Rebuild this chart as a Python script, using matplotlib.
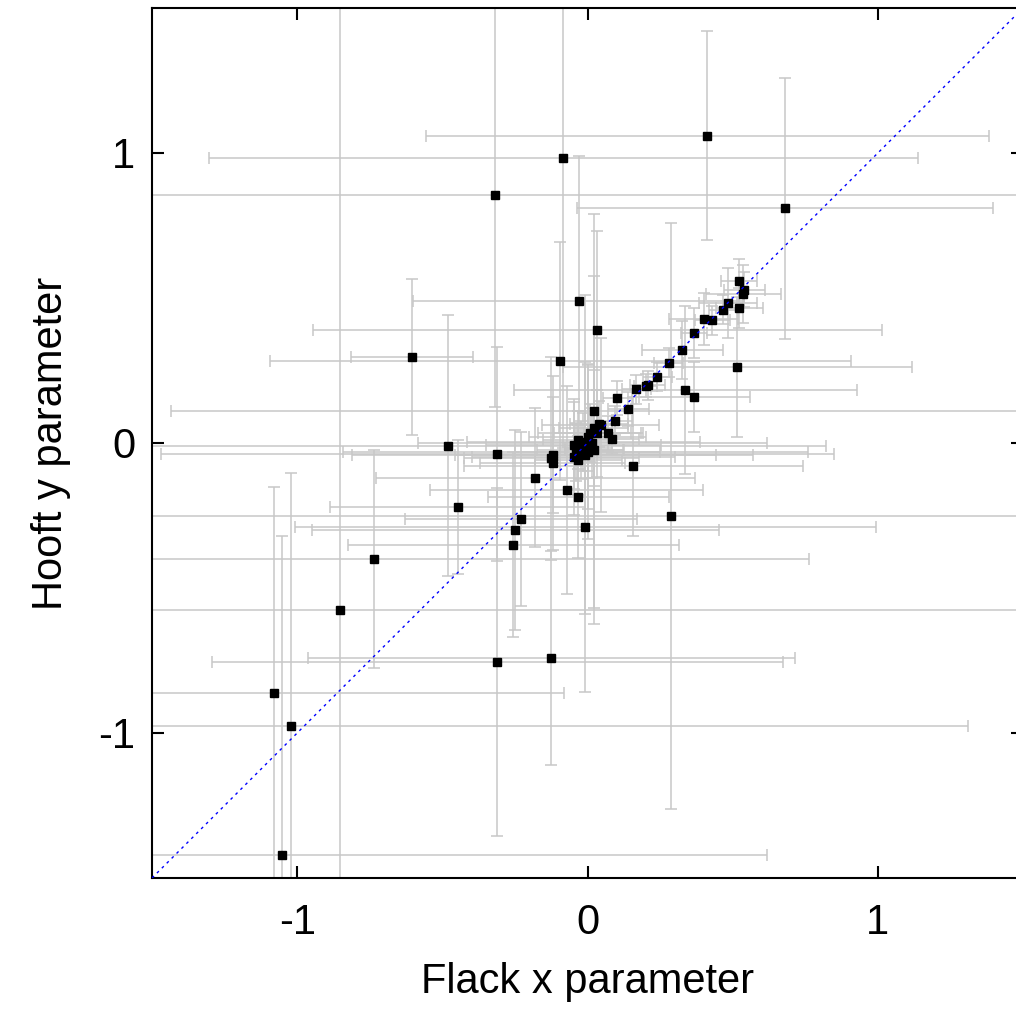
import numpy as np
import matplotlib
matplotlib.use('Agg')
import matplotlib.pyplot as plt

plt.rcParams['font.family'] = ['Liberation Sans', 'DejaVu Sans']
plt.rcParams['axes.unicode_minus'] = False

# Flack x vs Hooft y, with standard uncertainties
flack_x = [0.413, -0.083, -0.32, 0.68, -0.03, 0.034, -0.093, -0.606, -0.48, -0.447,
           -0.737, -0.854, -0.31, -1.08, -1.02, -1.053, -0.124, 0.286, 0.523, 0.54,
           0.537, 0.523, 0.485, 0.468, 0.43, 0.40, 0.368, 0.327, 0.279, 0.516,
           0.337, 0.368, 0.24, 0.207, 0.20, 0.168, 0.103, 0.141, 0.093, 0.024,
           0.041, 0.086, 0.158, -0.12, -0.124, -0.12, -0.31, -0.18, -0.072, -0.031,
           -0.23, -0.248, -0.255, -0.007, -0.048, -0.034, -0.014, 0.0, 0.017, -0.024,
           0.0, 0.021, -0.048, -0.031, -0.007, 0.003, -0.041, 0.021, 0.010, 0.034,
           0.069, 0.045]
hooft_y = [1.059, 0.983, 0.855, 0.81, 0.49, 0.39, 0.283, 0.297, -0.01, -0.22,
           -0.40, -0.576, -0.755, -0.862, -0.975, -1.42, -0.741, -0.252, 0.559, 0.528,
           0.514, 0.466, 0.483, 0.459, 0.424, 0.428, 0.379, 0.321, 0.276, 0.262,
           0.183, 0.159, 0.228, 0.20, 0.197, 0.186, 0.155, 0.117, 0.076, 0.11,
           0.066, 0.014, -0.08, -0.04, -0.052, -0.068, -0.038, -0.12, -0.162, -0.186,
           -0.262, -0.30, -0.35, -0.29, -0.007, 0.010, 0.003, 0.021, 0.0, -0.024,
           -0.031, -0.024, -0.048, -0.059, -0.041, -0.017, -0.031, 0.052, 0.034, 0.034,
           0.034, 0.062]
flack_err = [0.97, 1.22, 1.9, 0.716, 0.57, 0.98, 1.0, 0.21, 1.3, 0.44,
             1.5, 2.5, 0.985, 1.0, 2.33, 1.67, 0.84, 1.8, 0.062, 0.07,
             0.13, 0.08, 0.1, 0.05, 0.06, 0.12, 0.045, 0.14, 0.05, 0.6,
             0.59, 0.19, 0.05, 0.06, 0.04, 0.05, 0.05, 0.07, 0.06, 1.46,
             0.1, 0.09, 0.585, 0.69, 0.3, 0.25, 1.16, 0.55, 0.47, 0.31,
             0.4, 0.7, 0.57, 1.0, 0.3, 0.12, 0.4, 0.2, 0.6, 0.15,
             0.25, 0.1, 0.35, 0.15, 0.45, 0.08, 0.8, 0.12, 0.18, 0.15,
             0.08, 0.2]
hooft_err = [0.36, 1.0, 0.73, 0.45, 0.50, 0.34, 0.41, 0.27, 0.45, 0.23,
             0.375, 2.5, 0.6, 0.71, 0.87, 1.1, 0.37, 1.01, 0.076, 0.06,
             0.1, 0.07, 0.12, 0.05, 0.05, 0.09, 0.086, 0.1, 0.05, 0.24,
             0.29, 0.12, 0.05, 0.05, 0.04, 0.05, 0.06, 0.06, 0.05, 0.68,
             0.08, 0.05, 0.24, 0.2, 0.35, 0.3, 0.37, 0.24, 0.36, 0.21,
             0.30, 0.345, 0.32, 0.57, 0.15, 0.1, 0.1, 0.25, 0.12, 0.1,
             0.3, 0.6, 0.2, 0.12, 0.55, 0.08, 0.1, 0.2, 0.1, 0.15,
             0.06, 0.3]

ticks = [-1, 0, 1]
lims = (-1.5, 1.5)

fig = plt.figure(figsize=(10.16, 10.10), dpi=100)
# right frame edge falls just outside the picture, as in the original
ax = fig.add_axes([152/1016, 132/1010, 871/1016, 870/1010])

ax.errorbar(flack_x, hooft_y, xerr=flack_err, yerr=hooft_err, fmt='none',
            ecolor='#c8c8c8', elinewidth=1.1, capsize=4.3, capthick=1.1, zorder=2)
ax.plot(flack_x, hooft_y, 's', color='black', markersize=5.8, zorder=3)
ax.plot(lims, lims, color='#0000ff', lw=1.0, linestyle=(0, (2, 3)), zorder=4)

ax.set_xlim(lims)
ax.set_ylim(lims)
ax.set_xticks(ticks)
ax.set_yticks(ticks)
ax.set_xticklabels([str(t) for t in ticks])
ax.set_yticklabels([str(t) for t in ticks])
ax.tick_params(direction='in', length=8.6, width=1.5, top=True, right=True,
               labelsize=30, colors='black')
ax.tick_params(axis='x', pad=18)
ax.tick_params(axis='y', pad=12)
for s in ax.spines.values():
    s.set_linewidth(1.5)

ax.set_xlabel('Flack x parameter', fontsize=30, labelpad=14)
ax.set_ylabel('Hooft y parameter', fontsize=30, labelpad=20)

fig.savefig('out.png', dpi=100)
